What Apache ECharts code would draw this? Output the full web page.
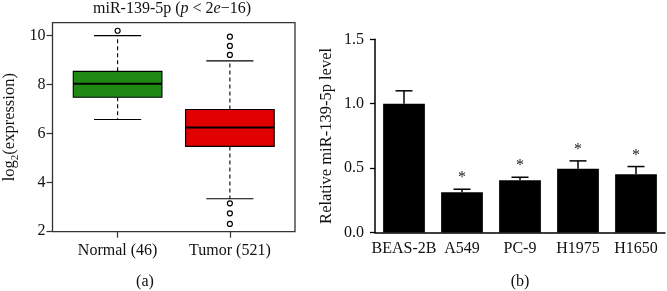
<!DOCTYPE html>
<html>
<head>
<meta charset="utf-8">
<script src="https://cdn.jsdelivr.net/npm/echarts@6/dist/echarts.min.js"></script>
<style>
  html, body { margin: 0; padding: 0; background: #fff; }
  #chart { width: 667px; height: 291px; }
</style>
</head>
<body>
<div id="chart"></div>
<script>
// panel (a): boxplot of miR-139-5p expression
const groups = ['Normal (46)', 'Tumor (521)'];
// [lower whisker, Q1, median, Q3, upper whisker]
const boxStats = [
  [6.57, 7.48, 8.03, 8.54, 10.0],
  [3.33, 5.47, 6.24, 6.98, 8.97]
];
const outliers = [
  [10.2],
  [9.96, 9.58, 9.21, 3.14, 2.73, 2.30]
];
const boxColors = ['#1f8a13', '#e00000'];
const exprTicks = [2, 4, 6, 8, 10];

// panel (b): relative level in cell lines
const cells = ['BEAS-2B', 'A549', 'PC-9', 'H1975', 'H1650'];
const relLevel = [1.0, 0.313, 0.406, 0.494, 0.452];
const relErr = [0.10, 0.023, 0.023, 0.062, 0.06];
const sig = ['', '*', '*', '*', '*'];

const FONT = 'Liberation Serif';
const FS = 16;
const chart = echarts.init(document.getElementById('chart'));

const boxData = groups.map((g, i) => [i + 1, ...boxStats[i]]);
const outlierData = [];
outliers.forEach((list, i) => list.forEach(v => outlierData.push([i + 1, v])));

function renderBox(params, api) {
  const x = api.value(0);
  const lo = api.value(1), q1 = api.value(2), med = api.value(3), q3 = api.value(4), hi = api.value(5);
  const c = (v) => api.coord([x, v]);
  const halfW = api.size([0.79, 0])[0] / 2;
  const capW = api.size([0.42, 0])[0] / 2;
  const pLo = c(lo), pQ1 = c(q1), pMed = c(med), pQ3 = c(q3), pHi = c(hi);
  const cx = pMed[0];
  const dash = { stroke: '#000', lineWidth: 1.1, lineDash: [4, 3] };
  const solid = { stroke: '#000', lineWidth: 1.1 };
  return {
    type: 'group',
    children: [
      { type: 'line', shape: { x1: cx, y1: pQ3[1], x2: cx, y2: pHi[1] }, style: dash },
      { type: 'line', shape: { x1: cx, y1: pQ1[1], x2: cx, y2: pLo[1] }, style: dash },
      { type: 'line', shape: { x1: cx - capW, y1: pHi[1], x2: cx + capW, y2: pHi[1] }, style: solid },
      { type: 'line', shape: { x1: cx - capW, y1: pLo[1], x2: cx + capW, y2: pLo[1] }, style: solid },
      {
        type: 'rect',
        shape: { x: cx - halfW, y: pQ3[1], width: halfW * 2, height: pQ1[1] - pQ3[1] },
        style: { fill: boxColors[params.dataIndex], stroke: '#000', lineWidth: 1.1 }
      },
      { type: 'line', shape: { x1: cx - halfW, y1: pMed[1], x2: cx + halfW, y2: pMed[1] }, style: { stroke: '#000', lineWidth: 2 } }
    ]
  };
}

function renderErr(params, api) {
  const i = api.value(0);
  const v = api.value(1), e = api.value(2);
  const base = api.coord([i, v]);
  const top = api.coord([i, v + e]);
  const cap = 8.5;
  const children = [
    { type: 'line', shape: { x1: base[0], y1: base[1], x2: top[0], y2: top[1] }, style: { stroke: '#000', lineWidth: 1.5 } },
    { type: 'line', shape: { x1: top[0] - cap, y1: top[1], x2: top[0] + cap, y2: top[1] }, style: { stroke: '#000', lineWidth: 1.5 } }
  ];
  if (sig[params.dataIndex]) {
    children.push({
      type: 'text',
      style: {
        text: sig[params.dataIndex], x: top[0], y: top[1] - 3,
        align: 'center', verticalAlign: 'bottom',
        font: '16px "' + FONT + '"', fill: '#222'
      }
    });
  }
  return { type: 'group', children };
}

const textStyle = { fontFamily: FONT, fontSize: FS, color: '#111', fontWeight: 'normal' };

const option = {
  animation: false,
  textStyle: { fontFamily: FONT },
  title: [
    {
      text: '{n|miR-139-5p (}{i|p}{n| < 2}{i|e}{n|\u221216)}',
      left: 172, top: 1, padding: 0, textAlign: 'center',
      textStyle: {
        rich: {
          n: { fontFamily: FONT, fontSize: FS, color: '#111', fontWeight: 'normal' },
          i: { fontFamily: FONT, fontSize: FS, color: '#111', fontWeight: 'normal', fontStyle: 'italic' }
        }
      }
    },
    { text: '(a)', left: 145, top: 274, padding: 0, textAlign: 'center', textStyle },
    { text: '(b)', left: 520, top: 274, padding: 0, textAlign: 'center', textStyle }
  ],
  grid: [
    { left: 49.5, right: 372, top: 22.7, bottom: 59.3, show: true, borderColor: '#333', borderWidth: 1.3, backgroundColor: 'transparent' },
    { left: 375, right: 2, top: 39.3, bottom: 58.5 }
  ],
  xAxis: [
    {
      type: 'value', gridIndex: 0, min: 0.42, max: 2.58,
      splitLine: { show: false }, axisLine: { show: false },
      axisTick: { show: true, length: 6, customValues: [1, 2], lineStyle: { color: '#333', width: 1.2 } },
      axisLabel: { ...textStyle, margin: 11, customValues: [1, 2], formatter: (v) => groups[Math.round(v) - 1] }
    },
    {
      type: 'category', gridIndex: 1, data: cells,
      axisLine: { lineStyle: { color: '#000', width: 1.5 } },
      axisTick: { alignWithLabel: true, length: 5, lineStyle: { color: '#000', width: 1.3 } },
      axisLabel: { ...textStyle, margin: 8, interval: 0 }
    }
  ],
  yAxis: [
    {
      type: 'value', gridIndex: 0, min: 1.98, max: 10.53,
      splitLine: { show: false }, axisLine: { show: false },
      axisTick: { show: true, length: 6, customValues: exprTicks, lineStyle: { color: '#333', width: 1.2 } },
      axisLabel: { ...textStyle, margin: 7, customValues: exprTicks },
      name: '{a|log}{s|2}{a|(expression)}',
      nameLocation: 'middle', nameGap: 32,
      nameTextStyle: {
        rich: {
          a: { fontFamily: FONT, fontSize: 16.5, color: '#111', lineHeight: 22, verticalAlign: 'middle' },
          s: { fontFamily: FONT, fontSize: 11, color: '#111', verticalAlign: 'bottom', lineHeight: 10 }
        }
      }
    },
    {
      type: 'value', gridIndex: 1, min: 0, max: 1.5, interval: 0.5,
      splitLine: { show: false },
      axisLine: { show: true, lineStyle: { color: '#000', width: 1.5 } },
      axisTick: { show: true, length: 5, lineStyle: { color: '#000', width: 1.3 } },
      axisLabel: { ...textStyle, margin: 11, formatter: (v) => v.toFixed(1) },
      name: 'Relative miR-139-5p level',
      nameLocation: 'middle', nameGap: 40,
      nameTextStyle: { ...textStyle, fontSize: 16.5 }
    }
  ],
  series: [
    {
      type: 'custom', xAxisIndex: 0, yAxisIndex: 0,
      renderItem: renderBox, data: boxData, z: 2
    },
    {
      type: 'scatter', xAxisIndex: 0, yAxisIndex: 0, data: outlierData,
      symbol: 'circle', symbolSize: 5,
      itemStyle: { color: '#fff', borderColor: '#000', borderWidth: 1.2, opacity: 1 }, z: 3
    },
    {
      type: 'bar', xAxisIndex: 1, yAxisIndex: 1, data: relLevel,
      barWidth: '72%', itemStyle: { color: '#000' }
    },
    {
      type: 'custom', xAxisIndex: 1, yAxisIndex: 1,
      renderItem: renderErr,
      data: relLevel.map((v, i) => [i, v, relErr[i]]), z: 3
    }
  ]
};

chart.setOption(option);
</script>
</body>
</html>
